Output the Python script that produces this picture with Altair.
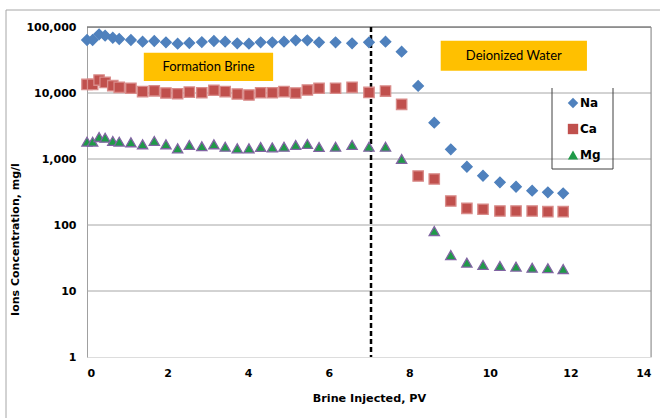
import altair as alt
import pandas as pd

# ---------------- data ----------------
pv = [0.0, 0.14, 0.30, 0.45, 0.64, 0.80, 1.09, 1.38, 1.67, 1.96, 2.25, 2.54, 2.85,
      3.15, 3.43, 3.73, 4.02, 4.31, 4.60, 4.89, 5.18, 5.47, 5.76, 6.17, 6.58, 7.00,
      7.41, 7.81, 8.22, 8.62, 9.03, 9.43, 9.83, 10.25, 10.65, 11.05, 11.44, 11.82]
na = [63500, 63500, 77500, 73800, 68800, 65800, 63500, 59900, 61400, 58600, 55900,
      57300, 59000, 61400, 59900, 56600, 55900, 58600, 58600, 59900, 62900, 62900,
      58600, 58600, 56600, 58600, 59900, 42300, 12800, 3550, 1400, 764, 558, 443,
      380, 331, 313, 302]
ca = [13500, 13500, 15700, 14500, 12900, 12200, 11800, 10500, 10800, 10000, 9750,
      10300, 10100, 11000, 10500, 9660, 9330, 10100, 10100, 10500, 10000, 11100,
      11800, 11800, 12200, 10200, 10700, 6740, 552, 498, 231, 179, 173, 163, 163,
      163, 159, 159]
mg = [1830, 1830, 2150, 2100, 1875, 1830, 1790, 1670, 1875, 1670, 1450, 1630,
      1560, 1670, 1535, 1450, 1450, 1520, 1500, 1535, 1630, 1690, 1520, 1535, 1630,
      1535, 1535, 1000, None, 81, 35, 26.9, 24.8, 23.9, 23.4, 22.5, 22.1, 21.5]
ions = ["Na", "Ca", "Mg"]

x_ticks = [0, 2, 4, 6, 8, 10, 12, 14]
y_ticks = [1, 10, 100, 1000, 10000, 100000]
grid_vals = [10, 100, 1000, 10000]
boundary_pv = [7.05]
zone_labels = ["Formation Brine", "Deionized Water"]

# ---------------- styling ----------------
FONT = "DejaVu Sans"
fills = ["#4F81BD", "#C0504D", "#1F9A48"]
strokes = ["#4F81BD", "#D98C8A", "#8064A2"]
shapes = ["diamond", "square", "triangle-up"]
sizes = [110, 105, 40]

rows = []
for ion, vals in zip(ions, [na, ca, mg]):
    for x, v in zip(pv, vals):
        if v is not None:
            rows.append({"PV": x, "Conc": v, "Ion": ion})
df = pd.DataFrame(rows)

xs = alt.Scale(domain=[0, 14], nice=False, zero=False)
ys = alt.Scale(type="log", domain=[1, 100000], nice=False)

W, H = 564, 330

x_axis = alt.Axis(values=x_ticks, title="Brine Injected, PV", grid=False, domain=False,
                  ticks=False, labelFont=FONT, labelFontSize=11, labelFontWeight="bold",
                  labelColor="black", labelPadding=10, titleFont=FONT, titleFontSize=11.2,
                  titleFontWeight="bold", titleColor="black", titlePadding=14)
y_axis = alt.Axis(values=y_ticks, format=",", title="Ions Concentration, mg/l", grid=False,
                  domainColor="#A0A0A0", ticks=False, labelFont=FONT, labelFontSize=11,
                  labelFontWeight="bold", labelColor="black", labelPadding=11,
                  titleFont=FONT, titleFontSize=11, titleFontWeight="bold",
                  titleColor="black", titleX=-67, titleY=212, titleAngle=270)

# outer chart frame (left and top edges visible)
frame_left = alt.Chart(pd.DataFrame({"a": [0]})).mark_rule(color="#A6A6A6", strokeWidth=1).encode(
    x=alt.value(-81), y=alt.value(-17), y2=alt.value(395))
frame_top = alt.Chart(pd.DataFrame({"a": [0]})).mark_rule(color="#A6A6A6", strokeWidth=1).encode(
    x=alt.value(-81), x2=alt.value(580), y=alt.value(-17))

grid = alt.Chart(pd.DataFrame({"g": grid_vals})).mark_rule(color="#A6A6A6", strokeWidth=1).encode(
    y=alt.Y("g:Q", scale=ys, axis=y_axis))
top_line = alt.Chart(pd.DataFrame({"g": [100000]})).mark_rule(color="#404040", strokeWidth=1).encode(
    y=alt.Y("g:Q", scale=ys))
right_line = alt.Chart(pd.DataFrame({"g": [14]})).mark_rule(color="#8C8C8C", strokeWidth=1).encode(
    x=alt.X("g:Q", scale=xs, axis=x_axis))

# zone label boxes
box_df = pd.DataFrame({
    "label": zone_labels,
    "x1": [1.41, 8.78], "x2": [4.62, 12.41],
    "y1": [15200, 21800], "y2": [40800, 62000],
})
box_df["xm"] = (box_df["x1"] + box_df["x2"]) / 2
box_df["ym"] = (box_df["y1"] * box_df["y2"]) ** 0.5
boxes = alt.Chart(box_df).mark_rect(color="#FFC000").encode(
    x=alt.X("x1:Q", scale=xs), x2="x2:Q", y=alt.Y("y1:Q", scale=ys), y2="y2:Q")
box_text = alt.Chart(box_df).mark_text(font="Lato", fontSize=13, color="black",
                                       align="center", baseline="middle").encode(
    x=alt.X("xm:Q", scale=xs), y=alt.Y("ym:Q", scale=ys), text="label:N")

boundary = alt.Chart(pd.DataFrame({"b": boundary_pv})).mark_rule(
    color="black", strokeWidth=2.5, strokeDash=[5, 3]).encode(x=alt.X("b:Q", scale=xs))

# legend frame (left, right, bottom edges)
lg = dict(color="#404040", strokeWidth=1)
leg_l = alt.Chart(pd.DataFrame({"a": [0]})).mark_rule(**lg).encode(
    x=alt.value(465), y=alt.value(61), y2=alt.value(142))
leg_r = alt.Chart(pd.DataFrame({"a": [0]})).mark_rule(**lg).encode(
    x=alt.value(526), y=alt.value(61), y2=alt.value(142))
leg_b = alt.Chart(pd.DataFrame({"a": [0]})).mark_rule(**lg).encode(
    x=alt.value(465), x2=alt.value(526), y=alt.value(142))

legend = alt.Legend(title=None, orient="none", legendX=480, legendY=70, padding=0,
                    rowPadding=14, symbolSize=42, symbolStrokeWidth=0,
                    labelFont=FONT, labelFontSize=12, labelFontWeight="bold",
                    labelColor="black", labelOffset=1)

points = alt.Chart(df).mark_point(filled=True, opacity=1, strokeWidth=1.3).encode(
    x=alt.X("PV:Q", scale=xs),
    y=alt.Y("Conc:Q", scale=ys),
    color=alt.Color("Ion:N", scale=alt.Scale(domain=ions, range=fills), legend=legend),
    shape=alt.Shape("Ion:N", scale=alt.Scale(domain=ions, range=shapes), legend=legend),
    stroke=alt.Stroke("Ion:N", scale=alt.Scale(domain=ions, range=strokes), legend=None),
    size=alt.Size("Ion:N", scale=alt.Scale(domain=ions, range=sizes), legend=None),
)

chart = alt.layer(
    frame_left, frame_top, grid, top_line, right_line, boxes, box_text, boundary,
    leg_l, leg_r, leg_b, points
).properties(
    width=W, height=H,
    autosize=alt.AutoSizeParams(type="none"),
    padding={"left": 87, "top": 27, "right": 9, "bottom": 61},
).configure_view(stroke=None).configure(background="white")

chart.save("out.html", embed_options={"renderer": "svg", "actions": False})
